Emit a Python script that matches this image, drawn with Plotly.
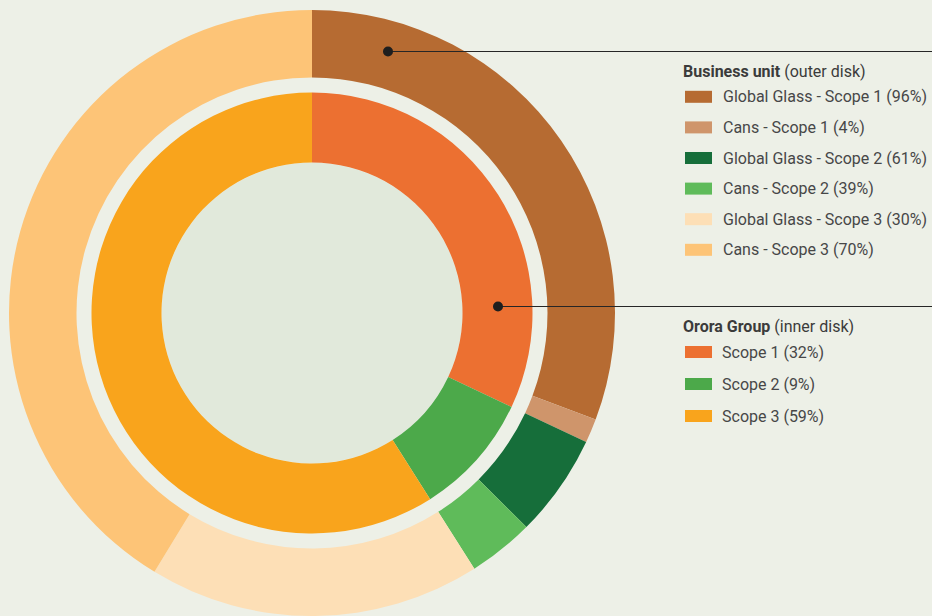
import plotly.graph_objects as go

# Emission shares: Orora Group split by scope (inner disk) and each scope
# split between the two business units (outer disk), in percent.
scopes = ["Scope 1", "Scope 2", "Scope 3"]
group_share = [32, 9, 59]
glass_share = [96, 61, 30]
cans_share = [4, 39, 70]

scope_colors = ["#ec7031", "#4ca94a", "#f9a41c"]
glass_colors = ["#b66b32", "#166e3a", "#fddfb6"]
cans_colors = ["#cf956b", "#5fbb5a", "#fdc477"]

BG = "#edf0e7"
HOLE = "#e1e9db"
W, H = 932, 616


def px(x):
    return x / W


def py(y):
    return 1 - y / H


# Outer ring: each scope slice split into Global Glass / Cans parts
outer_labels, outer_values, outer_colors = [], [], []
for s, g, gs, cs, gc, cc in zip(scopes, group_share, glass_share, cans_share,
                                glass_colors, cans_colors):
    outer_labels += [f"Global Glass - {s}", f"Cans - {s}"]
    outer_values += [g * gs / 100, g * cs / 100]
    outer_colors += [gc, cc]

cx, cy = 312, 313
R_out, R_out_in = 303, 235.5
R_in, R_hole = 220.5, 150.5

fig = go.Figure()
fig.add_trace(go.Pie(
    labels=outer_labels, values=outer_values, sort=False,
    direction="clockwise", rotation=0, hole=R_out_in / R_out,
    marker=dict(colors=outer_colors, line=dict(width=0)),
    textinfo="none", showlegend=False,
    domain=dict(x=[px(cx - R_out), px(cx + R_out)],
                y=[max(0, py(cy + R_out)), py(cy - R_out)]),
))
fig.add_trace(go.Pie(
    labels=scopes, values=group_share, sort=False,
    direction="clockwise", rotation=0, hole=R_hole / R_in,
    marker=dict(colors=scope_colors, line=dict(width=0)),
    textinfo="none", showlegend=False,
    domain=dict(x=[px(cx - R_in), px(cx + R_in)],
                y=[py(cy + R_in), py(cy - R_in)]),
))

shapes = [
    # tinted centre of the inner disk
    dict(type="circle", xref="paper", yref="paper", layer="below",
         x0=px(cx - R_hole), x1=px(cx + R_hole),
         y0=py(cy + R_hole), y1=py(cy - R_hole),
         fillcolor=HOLE, line=dict(width=0)),
]
annotations = []

LINE = "#262626"
TXT = "#474747"
FONT = "Roboto"


def callout(dot_x, dot_y):
    shapes.append(dict(type="line", xref="paper", yref="paper",
                       x0=px(dot_x), x1=1, y0=py(dot_y), y1=py(dot_y),
                       line=dict(color=LINE, width=1.2)))
    r = 5
    shapes.append(dict(type="circle", xref="paper", yref="paper",
                       x0=px(dot_x - r), x1=px(dot_x + r),
                       y0=py(dot_y + r), y1=py(dot_y - r),
                       fillcolor="#1e1e1e", line=dict(width=0)))


def legend_block(title, sub, title_y, rows, row_y0, step, text_x):
    annotations.append(dict(
        xref="paper", yref="paper", x=px(681), y=py(title_y),
        xanchor="left", yanchor="middle", showarrow=False,
        text=f"<b>{title}</b> {sub}",
        font=dict(family=FONT, size=16, color="#3b3b3b")))
    for i, (label, color) in enumerate(rows):
        yc = row_y0 + i * step
        shapes.append(dict(type="rect", xref="paper", yref="paper",
                           x0=px(685), x1=px(712),
                           y0=py(yc + 6), y1=py(yc - 6),
                           fillcolor=color, line=dict(width=0)))
        annotations.append(dict(
            xref="paper", yref="paper", x=px(text_x), y=py(yc),
            xanchor="left", yanchor="middle", showarrow=False,
            text=label, font=dict(family=FONT, size=16, color=TXT)))


callout(388, 51.5)
callout(498, 306.5)

bu_rows = []
for s, gs, cs, gc, cc in zip(scopes, glass_share, cans_share,
                             glass_colors, cans_colors):
    bu_rows.append((f"Global Glass - {s} ({gs}%)", gc))
    bu_rows.append((f"Cans - {s} ({cs}%)", cc))
legend_block("Business unit", "(outer disk)", 71.5, bu_rows, 96.8, 30.6, 721)

grp_rows = [(f"{s} ({g}%)", c) for s, g, c in zip(scopes, group_share, scope_colors)]
legend_block("Orora Group", "(inner disk)", 326.5, grp_rows, 352, 32, 720)

fig.update_layout(
    width=W, height=H, margin=dict(l=0, r=0, t=0, b=0),
    paper_bgcolor=BG, plot_bgcolor=BG,
    shapes=shapes, annotations=annotations,
)

fig.write_html("out.html")
